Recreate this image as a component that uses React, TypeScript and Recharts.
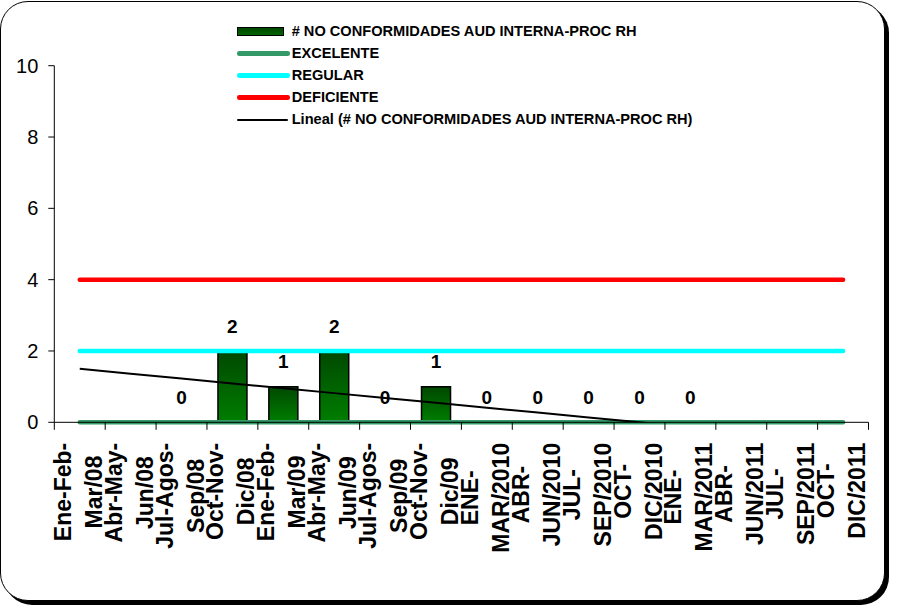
import React from 'react';
import { ComposedChart, Bar, Line, XAxis, YAxis, Legend, LabelList } from 'recharts';

const CATEGORIES = [
  'Ene-Feb-Mar/08', 'Abr-May-Jun/08', 'Jul-Agos-Sep/08', 'Oct-Nov-Dic/08',
  'Ene-Feb-Mar/09', 'Abr-May-Jun/09', 'Jul-Agos-Sep/09', 'Oct-Nov-Dic/09',
  'ENE-MAR/2010', 'ABR-JUN/2010', 'JUL-SEP/2010', 'OCT-DIC/2010',
  'ENE-MAR/2011', 'ABR-JUN/2011', 'JUL-SEP/2011', 'OCT-DIC/2011',
];
const NO_CONFORMIDADES: (number | null)[] = [null, null, 0, 2, 1, 2, 0, 1, 0, 0, 0, 0, 0, null, null, null];
const EXCELENTE = [0, 0, 0, 0, 0, 0, 0, 0, 0, 0, 0, 0, 0, 0, 0, 0];
const REGULAR = [2, 2, 2, 2, 2, 2, 2, 2, 2, 2, 2, 2, 2, 2, 2, 2];
const DEFICIENTE = [4, 4, 4, 4, 4, 4, 4, 4, 4, 4, 4, 4, 4, 4, 4, 4];
const Y_TICKS = [0, 2, 4, 6, 8, 10];

const NAME_NC = '# NO CONFORMIDADES AUD INTERNA-PROC RH';
const NAME_EXC = 'EXCELENTE';
const NAME_REG = 'REGULAR';
const NAME_DEF = 'DEFICIENTE';
const NAME_TREND = 'Lineal (# NO CONFORMIDADES AUD INTERNA-PROC RH)';

// Excel-style linear trendline (least squares on category index)
function linearTrend(values: (number | null)[]): number[] {
  const pts = values.map((v, i) => [i, v] as [number, number | null]).filter((p) => p[1] != null) as [number, number][];
  const n = pts.length;
  const mx = pts.reduce((s, p) => s + p[0], 0) / n;
  const my = pts.reduce((s, p) => s + p[1], 0) / n;
  let sxy = 0;
  let sxx = 0;
  pts.forEach(([x, y]) => {
    sxy += (x - mx) * (y - my);
    sxx += (x - mx) * (x - mx);
  });
  const slope = sxy / sxx;
  return values.map((_, i) => my + slope * (i - mx));
}

const TREND = linearTrend(NO_CONFORMIDADES);

const data = CATEGORIES.map((c, i) => ({
  cat: c,
  nc: NO_CONFORMIDADES[i],
  exc: EXCELENTE[i],
  reg: REGULAR[i],
  def: DEFICIENTE[i],
  trend: TREND[i],
}));

const FONT = "'Liberation Sans', Arial, sans-serif";
const X_FONT = `bold 23px ${FONT}`;
let measureCtx: CanvasRenderingContext2D | null = null;
function measure(s: string): number {
  if (!measureCtx) measureCtx = document.createElement('canvas').getContext('2d');
  if (!measureCtx) return s.length * 13;
  measureCtx.font = X_FONT;
  return measureCtx.measureText(s).width;
}
function wrap(label: string): string[] {
  const i = label.lastIndexOf('-');
  return i >= 0 ? [label.slice(0, i + 1), label.slice(i + 1)] : [label];
}

const XTick = (props: any) => {
  const { x, y, payload, index } = props;
  const half = payload && payload.offset ? payload.offset : 25.44;
  const lines = wrap(String(payload.value));
  const maxW = Math.max(...lines.map(measure));
  const cy = y + 20.5 + maxW / 2;
  const n = lines.length;
  return (
    <g>
      <line x1={x - half} x2={x - half} y1={y} y2={y + 7.5} stroke="#000" strokeWidth={1} />
      {index === CATEGORIES.length - 1 && (
        <line x1={x + half} x2={x + half} y1={y} y2={y + 7.5} stroke="#000" strokeWidth={1} />
      )}
      <g transform={`translate(${x},${cy}) rotate(-90)`}>
        {lines.map((l, k) => (
          <text
            key={k}
            x={0}
            y={(k - (n - 1) / 2) * 31 + 6.5}
            textAnchor="middle"
            fill="#000"
            style={{ fontFamily: FONT, fontWeight: 'bold', fontSize: 23 }}
          >
            {l}
          </text>
        ))}
      </g>
    </g>
  );
};

const PointLabel = (props: any) => {
  const { x, y, value } = props;
  if (value == null || x == null || y == null) return null;
  return (
    <text
      x={Number(x)}
      y={Number(y) - 25}
      dy="0.355em"
      textAnchor="middle"
      fill="#000"
      style={{ fontFamily: FONT, fontWeight: 'bold', fontSize: 19 }}
    >
      {value}
    </text>
  );
};

const LEGEND_ITEMS = [
  { name: NAME_NC, kind: 'bar', color: '#005a00', thick: 9 },
  { name: NAME_EXC, kind: 'line', color: '#339966', thick: 4.5 },
  { name: NAME_REG, kind: 'line', color: '#00FFFF', thick: 4.5 },
  { name: NAME_DEF, kind: 'line', color: '#FF0000', thick: 4.5 },
  { name: NAME_TREND, kind: 'trend', color: '#000000', thick: 2 },
];

const LegendContent = () => (
  <div style={{ display: 'flex', flexDirection: 'column' }}>
    {LEGEND_ITEMS.map((it) => (
      <div key={it.name} style={{ display: 'flex', alignItems: 'center', height: 22 }}>
        <div style={{ width: 54.7, display: 'flex', alignItems: 'center' }}>
          {it.kind === 'bar' ? (
            <div
              style={{
                width: 47,
                height: it.thick,
                boxSizing: 'border-box',
                border: '1.5px solid #000',
                background: 'linear-gradient(#004800, #006400)',
              }}
            />
          ) : (
            <div
              style={{
                width: it.kind === 'trend' ? 51 : 53,
                height: it.thick,
                borderRadius: it.thick / 2,
                background: it.color,
              }}
            />
          )}
        </div>
        <span
          style={{
            fontFamily: FONT,
            fontWeight: 'bold',
            fontSize: 14.6,
            color: '#000',
            whiteSpace: 'nowrap',
            lineHeight: 1,
          }}
        >
          {it.name}
        </span>
      </div>
    ))}
  </div>
);

export default function App() {
  return (
    <div style={{ position: 'absolute', left: 0, top: 0, width: 899, height: 605, background: '#fff' }}>
      <div
        style={{
          position: 'absolute',
          left: 0,
          top: 1,
          width: 884.5,
          height: 599.5,
          boxSizing: 'border-box',
          border: '1.5px solid #000',
          borderRadius: 28,
          boxShadow: '4px 4px 0 0 #000',
          background: '#fff',
        }}
      />
      <div style={{ position: 'absolute', left: 0, top: 0 }}>
        <ComposedChart
          width={899}
          height={605}
          data={data}
          margin={{ top: 65.7, right: 30.5, left: 0, bottom: 32.7 }}
        >
          <defs>
            <linearGradient id="barGrad" x1="0" y1="0" x2="0" y2="1">
              <stop offset="0%" stopColor="#004800" />
              <stop offset="100%" stopColor="#007e00" />
            </linearGradient>
          </defs>
          <XAxis
            dataKey="cat"
            height={150}
            interval={0}
            tickLine={false}
            tickSize={0}
            tickMargin={0}
            axisLine={{ stroke: '#000', strokeWidth: 1 }}
            tick={<XTick />}
          />
          <YAxis
            domain={[0, 10]}
            ticks={Y_TICKS}
            interval={0}
            width={54.3}
            tickSize={6}
            tickMargin={10}
            axisLine={{ stroke: '#000', strokeWidth: 1 }}
            tickLine={{ stroke: '#000', strokeWidth: 1 }}
            tick={{ fill: '#000', fontSize: 20, fontFamily: FONT }}
          />
          <YAxis yAxisId="trend" hide domain={[0, 10]} allowDataOverflow />
          <Legend
            layout="vertical"
            align="center"
            verticalAlign="middle"
            content={<LegendContent />}
            wrapperStyle={{ position: 'absolute', left: 237, top: 20.7, width: 'auto', height: 'auto' }}
          />
          <Bar
            dataKey="nc"
            name={NAME_NC}
            barSize={29}
            fill="url(#barGrad)"
            stroke="#000"
            strokeWidth={1.5}
            isAnimationActive={false}
          />
          <Line dataKey="exc" name={NAME_EXC} stroke="#339966" strokeWidth={4.5} strokeLinecap="round" dot={false} activeDot={false} isAnimationActive={false} />
          <Line dataKey="reg" name={NAME_REG} stroke="#00FFFF" strokeWidth={4.5} strokeLinecap="round" dot={false} activeDot={false} isAnimationActive={false} />
          <Line dataKey="def" name={NAME_DEF} stroke="#FF0000" strokeWidth={4.5} strokeLinecap="round" dot={false} activeDot={false} isAnimationActive={false} />
          <Line yAxisId="trend" dataKey="trend" name={NAME_TREND} stroke="#000" strokeWidth={2} dot={false} activeDot={false} isAnimationActive={false} />
          <Line dataKey="nc" name="labels" legendType="none" stroke="none" dot={false} activeDot={false} isAnimationActive={false}>
            <LabelList dataKey="nc" content={<PointLabel />} />
          </Line>
        </ComposedChart>
      </div>
    </div>
  );
}
